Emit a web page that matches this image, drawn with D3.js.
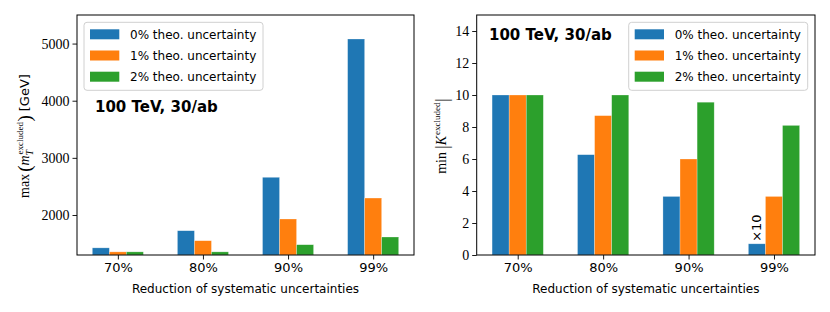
<!DOCTYPE html>
<html>
<head>
<meta charset="utf-8">
<script src="https://cdn.jsdelivr.net/npm/d3@7"></script>
<style>
  body { margin: 0; background: #fff; }
  svg text { fill: #000; }
</style>
</head>
<body>
<svg id="chart" width="830" height="312"></svg>
<script>
// data
const categories = ["70%", "80%", "90%", "99%"];
const seriesNames = ["0% theo. uncertainty", "1% theo. uncertainty", "2% theo. uncertainty"];
const colors = ["#1f77b4", "#ff7f0e", "#2ca02c"];

// left panel: max m_T excluded [GeV], one array per theory uncertainty
const mtTheo0 = [1425, 1725, 2660, 5080];
const mtTheo1 = [1355, 1550, 1930, 2297];
const mtTheo2 = [1355, 1355, 1480, 1615];
const mtTicks = [2000, 3000, 4000, 5000];

// right panel: min |K excluded|
const kTheo0 = [10, 6.27, 3.66, 0.7];
const kTheo1 = [10, 8.71, 6.0, 3.66];
const kTheo2 = [10, 10, 9.55, 8.1];
const kTicks = [0, 2, 4, 6, 8, 10, 12, 14];

const svg = d3.select("#chart");
const serif = "'Liberation Serif', 'DejaVu Serif', serif";
const sans = "'DejaVu Sans', 'Liberation Sans', sans-serif";

// draws one bar panel, returns the group and scales
function panel(opts) {
  const g = svg.append("g");
  const x = d3.scaleLinear().domain([-0.48, 3.48]).range([opts.left, opts.right]);
  const y = d3.scaleLinear().domain(opts.yDomain).range([opts.bottom, opts.top]);
  const barW = 0.2;

  opts.series.forEach((vals, j) => {
    g.selectAll(null)
      .data(vals)
      .enter()
      .append("rect")
      .attr("x", (d, i) => x(i + (j - 1) * barW - barW / 2))
      .attr("width", x(barW) - x(0))
      .attr("y", d => y(d))
      .attr("height", d => y(opts.yDomain[0]) - y(d))
      .attr("fill", colors[j])
      .attr("stroke", "#ffffff")
      .attr("stroke-opacity", 0.45)
      .attr("stroke-width", 0.6);
  });

  // y axis
  const yAxis = g.append("g")
    .attr("transform", `translate(${opts.left},0)`)
    .call(d3.axisLeft(y).tickValues(opts.yTicks).tickFormat(d3.format("d")).tickSize(4.5).tickPadding(3));
  yAxis.select(".domain").remove();
  yAxis.selectAll("text").attr("font-family", serif).attr("font-size", 14);
  yAxis.selectAll("line").attr("stroke-width", 0.9);

  // x axis
  const xAxis = g.append("g")
    .attr("transform", `translate(0,${opts.bottom})`)
    .call(d3.axisBottom(x).tickValues([0, 1, 2, 3]).tickFormat(i => categories[i]).tickSize(4.5).tickPadding(3));
  xAxis.select(".domain").remove();
  xAxis.selectAll("text").attr("font-family", sans).attr("font-size", 13);
  xAxis.selectAll("line").attr("stroke-width", 0.9);

  // frame
  g.append("rect")
    .attr("x", opts.left).attr("y", opts.top)
    .attr("width", opts.right - opts.left).attr("height", opts.bottom - opts.top)
    .attr("fill", "none").attr("stroke", "#000").attr("stroke-width", 1);

  g.append("text")
    .attr("x", (opts.left + opts.right) / 2).attr("y", 293)
    .attr("text-anchor", "middle")
    .attr("font-family", sans).attr("font-size", 12)
    .text("Reduction of systematic uncertainties");

  // legend
  const lg = g.append("g").attr("transform", `translate(${opts.legendX},${opts.top + 7.3})`);
  lg.append("rect")
    .attr("width", 179).attr("height", 68).attr("rx", 3)
    .attr("fill", "#fff").attr("fill-opacity", 0.8)
    .attr("stroke", "#d0d0d0").attr("stroke-width", 1);
  seriesNames.forEach((name, j) => {
    lg.append("rect")
      .attr("x", 6).attr("y", 7 + j * 21.2)
      .attr("width", 29.3).attr("height", 10)
      .attr("fill", colors[j]);
    lg.append("text")
      .attr("x", 46).attr("y", 16.5 + j * 21.2)
      .attr("font-family", sans).attr("font-size", 12)
      .text(name);
  });

  g.append("text")
    .attr("x", opts.tagX).attr("y", opts.tagY)
    .attr("font-family", sans).attr("font-weight", "bold").attr("font-size", 15)
    .text("100 TeV, 30/ab");

  return { g, x, y };
}

// rotated label made of pieces laid out along the baseline;
// a piece can carry a stacked sub- and superscript
function richLabel(cx, cy, pieces) {
  const g = svg.append("g");
  let pos = 0;
  function put(text, o) {
    const t = g.append("text")
      .attr("font-family", o.family || serif)
      .attr("font-size", o.size || 14)
      .attr("font-style", o.italic ? "italic" : null)
      .attr("x", pos + (o.dx || 0))
      .attr("y", o.shift || 0)
      .text(text);
    return t.node().getComputedTextLength() + (o.dx || 0);
  }
  pieces.forEach(p => {
    pos += put(p.text, p);
    if (p.sup || p.sub) {
      const wSup = p.sup ? put(p.sup, { size: 9, shift: -6, dx: 0.8 }) : 0;
      const wSub = p.sub ? put(p.sub, { size: 9.5, italic: true, shift: 3.5, dx: 0 }) : 0;
      pos += Math.max(wSup, wSub);
    }
  });
  g.attr("transform", `translate(${cx},${cy}) rotate(-90) translate(${-pos / 2},0)`);
  return g;
}

const left = panel({
  left: 77, right: 414, top: 15, bottom: 255,
  yDomain: [1300, 5500], yTicks: mtTicks,
  series: [mtTheo0, mtTheo1, mtTheo2],
  legendX: 84, tagX: 95, tagY: 112
});

const right = panel({
  left: 476.7, right: 815, top: 15, bottom: 255,
  yDomain: [0, 15], yTicks: kTicks,
  series: [kTheo0, kTheo1, kTheo2],
  legendX: 815 - 7.3 - 179, tagX: 489, tagY: 40
});

// x10 note on the 99% blue bar of the right panel
const noteX = right.x(3 - 0.2);
right.g.append("text")
  .attr("transform", `translate(${noteX + 4.5},${right.y(kTheo0[3]) - 2}) rotate(-90)`)
  .attr("font-family", sans).attr("font-size", 13)
  .text("×10");

// axis titles
richLabel(29, 136, [
  { text: "max", size: 14 },
  { text: "(", size: 19, dx: 2, shift: 1.5 },
  { text: "m", italic: true, size: 14, sub: "T", sup: "excluded" },
  { text: ")", size: 19, dx: 0.5, shift: 1.5 },
  { text: "[GeV]", family: sans, size: 13, dx: 4 }
]);

richLabel(446, 136, [
  { text: "min", size: 14 },
  { text: "|", size: 19, dx: 3, shift: 1.5 },
  { text: "K", italic: true, size: 14, sup: "excluded" },
  { text: "|", size: 19, dx: 0.5, shift: 1.5 }
]);
</script>
</body>
</html>
